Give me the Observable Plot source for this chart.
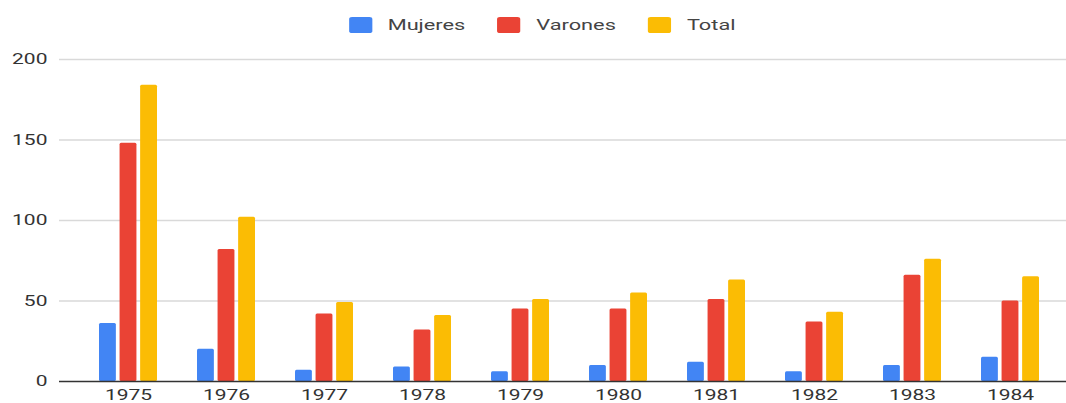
<!DOCTYPE html>
<html><head><meta charset="utf-8">
<script src="https://cdn.jsdelivr.net/npm/d3@7"></script>
<script src="https://cdn.jsdelivr.net/npm/@observablehq/plot@0.6"></script>
<style>
html,body{margin:0;padding:0;background:#fff;overflow:hidden;width:1066px;height:403px;font-family:Roboto,Arial,sans-serif}
#legend{height:30px;padding-top:10px;display:flex;justify-content:center;align-items:center;transform:translateX(9px) scaleX(1.45);transform-origin:center;}
.item{display:flex;align-items:center;margin:0 11px;}
.sw{width:16px;height:16px;border-radius:2px;margin-right:11px;}
.lab{font-size:15px;color:#444;}
#chart svg{display:block}
</style></head><body>
<div id="legend"></div>
<div id="chart"></div>
<script>
const years = ["1975","1976","1977","1978","1979","1980","1981","1982","1983","1984"];
const mujeres = [36,20,7,9,6,10,12,6,10,15];
const varones = [148,82,42,32,45,45,51,37,66,50];
const total = [184,102,49,41,51,55,63,43,76,65];
const seriesNames = ["Mujeres","Varones","Total"];
const seriesColors = ["#4285F4","#EA4335","#FBBC04"];
const yTicks = [0,50,100,150,200];

const rows = years.map((year,i)=>({year, Mujeres: mujeres[i], Varones: varones[i], Total: total[i]}));

// legend
const legend = document.getElementById("legend");
seriesNames.forEach((n,i)=>{
  const it = document.createElement("div"); it.className="item";
  const sw = document.createElement("div"); sw.className="sw"; sw.style.background=seriesColors[i];
  const lb = document.createElement("span"); lb.className="lab"; lb.textContent=n;
  it.appendChild(sw); it.appendChild(lb); legend.appendChild(it);
});

const W = 1066, H = 363, mL = 59, mR = 0;
const pInner = 0.41, pOuter = 0.336;
const step = (W - mL - mR) / (years.length - pInner + 2*pOuter);
const bw = step*(1-pInner);
const gap = 3.8;
const barW = (bw - 2*gap)/3;

const chart = Plot.plot({
  width: W, height: H,
  marginLeft: mL, marginRight: mR, marginTop: 19, marginBottom: 22,
  style: {fontFamily:"Roboto, Arial, sans-serif", fontSize:"14.5px", color:"#333", background:"white"},
  x: {domain: years, paddingInner: pInner, paddingOuter: pOuter, align: 0.59, label: null, tickSize: 0, tickPadding: 8},
  y: {domain: [0,200], ticks: yTicks, label: null, tickSize: 0, tickPadding: 12},
  marks: [
    Plot.ruleY(yTicks.filter(d=>d>0), {stroke:"#d9d9d9", strokeWidth:1.5}),
    ...seriesNames.map((n,i)=>Plot.barY(rows, {
      x: "year", y: n, fill: seriesColors[i], rx: 1.5,
      insetLeft: i*(barW+gap), insetRight: (2-i)*(barW+gap)
    })),
    Plot.ruleY([0], {stroke:"#333", strokeWidth:1.5})
  ]
});
document.getElementById("chart").appendChild(chart);
// horizontal stretch of the labels around their anchor point
chart.querySelectorAll("text").forEach(t=>{
  const tr = t.getAttribute("transform") || "";
  t.setAttribute("transform", (tr + " scale(1.45,1)").trim());
  const x = t.getAttribute("x");
  if (x) t.setAttribute("x", +x/1.45);
});
</script>
</body></html>
